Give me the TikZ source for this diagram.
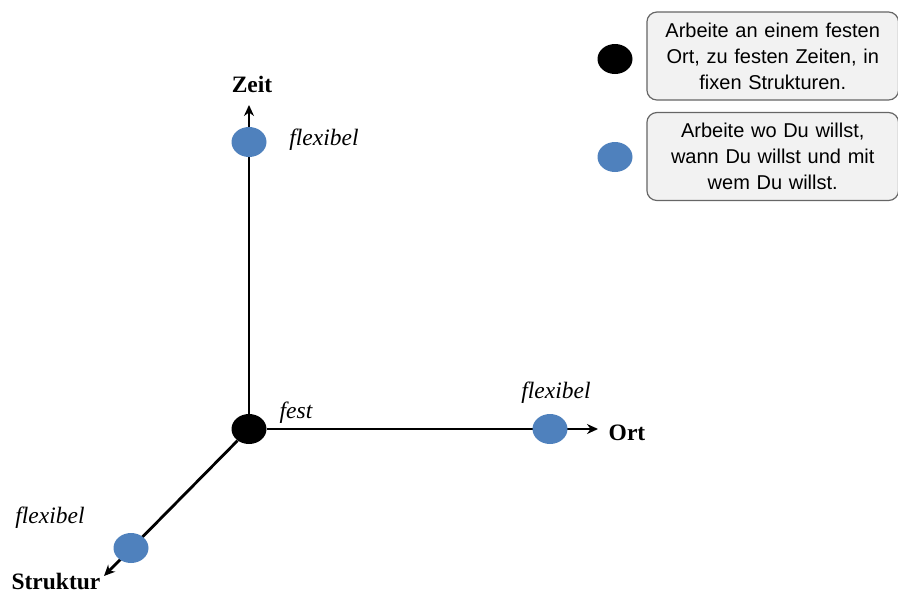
\documentclass[tikz,border=0pt]{standalone}
\usepackage{fontspec}
\setmainfont{Liberation Serif}
\newfontfamily\boxfont{Liberation Sans}
\usetikzlibrary{shapes.geometric,arrows.meta}
\definecolor{dotblue}{RGB}{79,129,189}
\definecolor{boxgray}{RGB}{242,242,242}

\begin{document}
\begin{tikzpicture}[x=1pt,y=-1pt,
  dot/.style={ellipse, minimum width=35pt, minimum height=30pt, inner sep=0pt},
  axis/.style={line width=2.8pt, -{Stealth[length=11pt,width=10pt]}},
  axislabel/.style={font=\fontsize{23.5}{28}\selectfont\bfseries},
  lbl/.style={font=\fontsize{23.5}{28}\selectfont\itshape},
  legendbox/.style={draw=black!60, fill=boxgray, rounded corners=10pt, line width=1.2pt,
    text width=245pt, minimum width=249pt, minimum height=88pt, align=center,
    font=\boxfont\fontsize{20}{26}\selectfont}]

\useasboundingbox (0,0) rectangle (898,595);

%\draw[help lines] (0,0) grid (898,595);

% axes
\node[dot, fill=black] (o) at (249,429) {};
\coordinate (zeittip) at (249,105);
\coordinate (orttip) at (598,429);
\coordinate (struktip) at (104,576);

\draw[axis] (o) -- (zeittip);
\draw[axis] (o) -- (orttip);
\draw[axis] (o) -- (struktip);

\node[axislabel] (zeit) at (252,84) {Zeit};
\node[axislabel] (ort) at (627,433) {Ort};
\node[axislabel, inner sep=1pt] (struktur) at (56,581) {Struktur};

% flexibel points
\node[dot, fill=dotblue] (zflex) at (249,142) {};
\node[dot, fill=dotblue] (oflex) at (550,429) {};
\node[dot, fill=dotblue] (sflex) at (131,548) {};

\node[lbl] (zflexlbl) at (324,140) {flexibel};
\node[lbl] (oflexlbl) at (556,393) {flexibel};
\node[lbl] (sflexlbl) at (50,518) {flexibel};
\node[lbl] (festlbl) at (296,413) {fest};

% legend
\node[dot, fill=black] (fixdot) at (615,59) {};
\node[dot, fill=dotblue] (flexdot) at (615,157) {};

\node[legendbox] (fixbox) at (772.75,56) {Arbeite an einem festen\\Ort, zu festen Zeiten, in\\fixen Strukturen.};
\node[legendbox] (flexbox) at (772.75,156.5) {Arbeite wo Du willst,\\wann Du willst und mit\\wem Du willst.};

\end{tikzpicture}
\end{document}
